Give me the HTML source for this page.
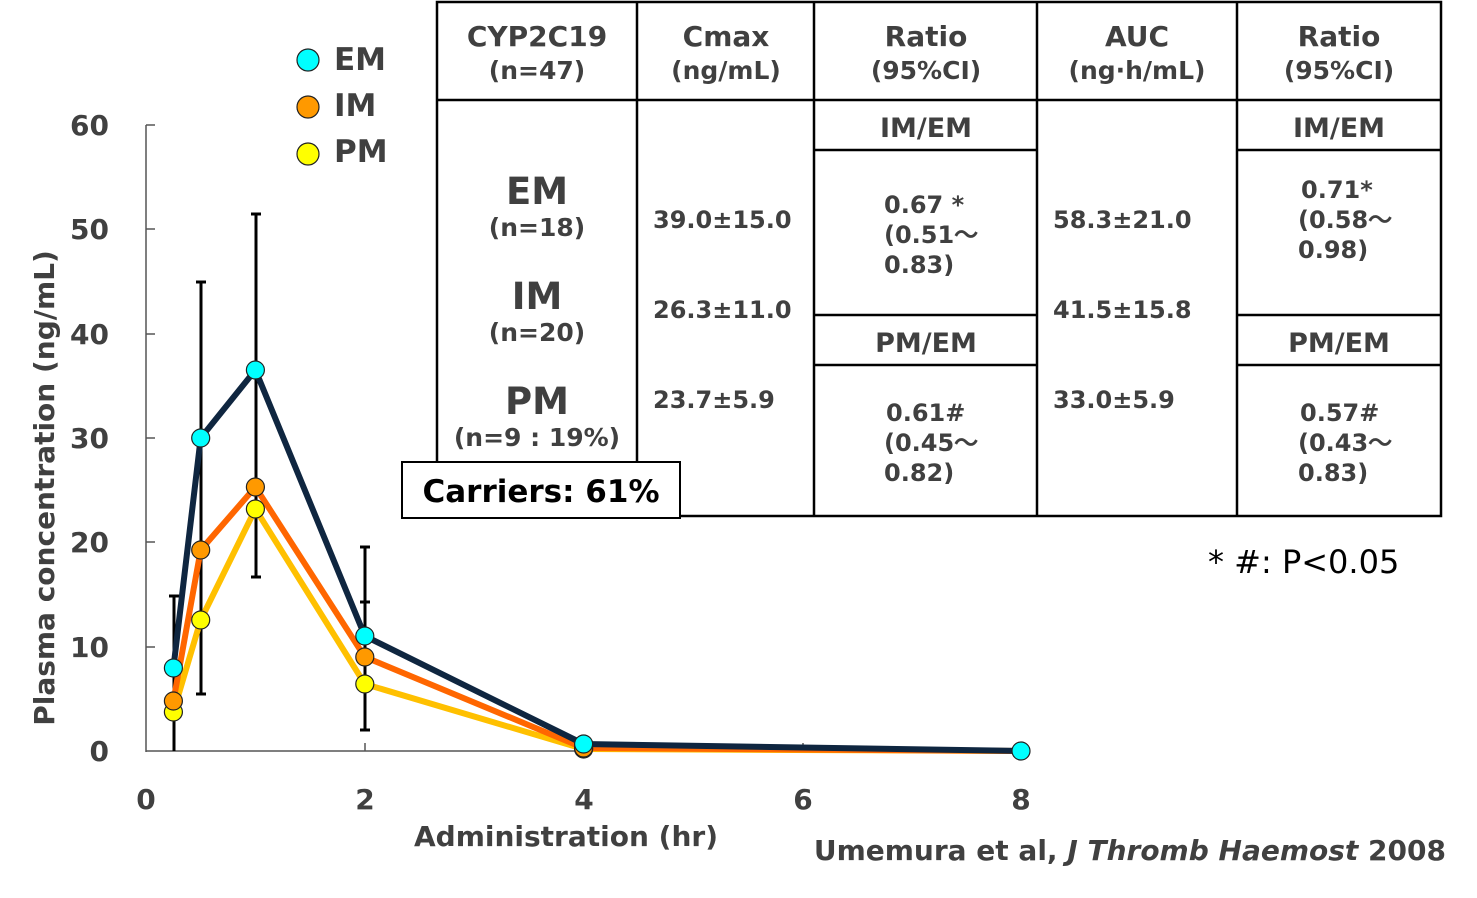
<!DOCTYPE html>
<html><head><meta charset="utf-8"><style>
html,body{margin:0;padding:0;background:#fff;}
svg text{font-family:"DejaVu Sans","Liberation Sans",sans-serif;font-weight:bold;fill:#404040;}
</style></head><body>
<svg width="1477" height="893" viewBox="0 0 1477 893" xmlns="http://www.w3.org/2000/svg">
<g stroke="#555" stroke-width="1.5" fill="none">
<line x1="146" y1="125" x2="146" y2="752"/>
<line x1="146" y1="751" x2="1022" y2="751"/>
<line x1="146" y1="125" x2="155" y2="125"/>
<line x1="146" y1="229" x2="155" y2="229"/>
<line x1="146" y1="334" x2="155" y2="334"/>
<line x1="146" y1="438" x2="155" y2="438"/>
<line x1="146" y1="542" x2="155" y2="542"/>
<line x1="146" y1="647" x2="155" y2="647"/>
<line x1="365" y1="743" x2="365" y2="751"/>
<line x1="584" y1="743" x2="584" y2="751"/>
<line x1="803" y1="743" x2="803" y2="751"/>
<line x1="1021" y1="743" x2="1021" y2="751"/>
</g>
<g font-size="28" text-anchor="end">
<text x="109" y="135">60</text><text x="109" y="239">50</text><text x="109" y="344">40</text>
<text x="109" y="448">30</text><text x="109" y="552">20</text><text x="109" y="657">10</text>
<text x="109" y="761">0</text>
</g>
<g font-size="28" text-anchor="middle">
<text x="146" y="809">0</text><text x="365" y="809">2</text><text x="584" y="809">4</text>
<text x="803" y="809">6</text><text x="1021" y="809">8</text>
</g>
<text x="566" y="846" font-size="28" text-anchor="middle">Administration (hr)</text>
<text transform="translate(54,488) rotate(-90)" font-size="28" text-anchor="middle">Plasma concentration (ng/mL)</text>
<g stroke="#000" stroke-width="3">
<line x1="174" y1="596" x2="174" y2="751"/><line x1="169" y1="596" x2="179" y2="596"/>
<line x1="201" y1="282" x2="201" y2="694"/><line x1="196" y1="282" x2="206" y2="282"/><line x1="196" y1="694" x2="206" y2="694"/>
<line x1="256" y1="214" x2="256" y2="577"/><line x1="251" y1="214" x2="261" y2="214"/><line x1="251" y1="577" x2="261" y2="577"/>
<line x1="365" y1="547" x2="365" y2="730"/><line x1="360" y1="547" x2="370" y2="547"/><line x1="360" y1="730" x2="370" y2="730"/><line x1="360" y1="602" x2="370" y2="602"/>
</g>
<g fill="none" stroke-width="6" stroke-linejoin="round">
<polyline stroke="#FFC000" points="173.4,712 200.7,620 255.4,509 364.8,684 583.6,749 1021,751"/>
<polyline stroke="#FF6600" points="173.4,701 200.7,550 255.4,487 364.8,657 583.6,748 1021,751"/>
<polyline stroke="#0F2640" points="173.4,668 200.7,438 255.4,370 364.8,636 583.6,744 1021,751"/>
</g>
<g stroke="#222" stroke-width="1.2">
<g fill="#FFFF00"><circle cx="173.4" cy="712" r="9"/><circle cx="200.7" cy="620" r="9"/><circle cx="255.4" cy="509" r="9"/><circle cx="364.8" cy="684" r="9"/><circle cx="583.6" cy="749" r="9"/></g>
<g fill="#FF9900"><circle cx="173.4" cy="701" r="9"/><circle cx="200.7" cy="550" r="9"/><circle cx="255.4" cy="487" r="9"/><circle cx="364.8" cy="657" r="9"/><circle cx="583.6" cy="748" r="9"/></g>
<g fill="#00FFFF"><circle cx="173.4" cy="668" r="9"/><circle cx="200.7" cy="438" r="9"/><circle cx="255.4" cy="370" r="9"/><circle cx="364.8" cy="636" r="9"/><circle cx="583.6" cy="744" r="9"/><circle cx="1021" cy="751" r="9"/></g>
<circle cx="308" cy="60" r="11" fill="#00FFFF"/><circle cx="308" cy="107" r="11" fill="#FF9900"/><circle cx="308" cy="154" r="11" fill="#FFFF00"/>
</g>
<g font-size="31"><text x="334" y="70">EM</text><text x="334" y="116">IM</text><text x="334" y="162">PM</text></g>
<g stroke="#000" stroke-width="2.5" fill="none">
<rect x="437" y="2" width="1004" height="514"/>
<line x1="437" y1="100" x2="1441" y2="100"/>
<line x1="637" y1="2" x2="637" y2="516"/>
<line x1="814" y1="2" x2="814" y2="516"/>
<line x1="1037" y1="2" x2="1037" y2="516"/>
<line x1="1237" y1="2" x2="1237" y2="516"/>
<line x1="814" y1="150" x2="1037" y2="150"/><line x1="814" y1="315" x2="1037" y2="315"/><line x1="814" y1="365" x2="1037" y2="365"/>
<line x1="1237" y1="150" x2="1441" y2="150"/><line x1="1237" y1="315" x2="1441" y2="315"/><line x1="1237" y1="365" x2="1441" y2="365"/>
</g>
<g font-size="28" text-anchor="middle">
<text x="537" y="46">CYP2C19</text><text x="726" y="46">Cmax</text><text x="926" y="46">Ratio</text><text x="1137" y="46">AUC</text><text x="1339" y="46">Ratio</text>
</g>
<g font-size="25" text-anchor="middle">
<text x="537" y="79">(n=47)</text><text x="726" y="79">(ng/mL)</text><text x="926" y="79">(95%CI)</text><text x="1137" y="79">(ng·h/mL)</text><text x="1339" y="79">(95%CI)</text>
<text x="926" y="137" font-size="27">IM/EM</text><text x="1339" y="137" font-size="27">IM/EM</text>
<text x="926" y="352" font-size="27">PM/EM</text><text x="1339" y="352" font-size="27">PM/EM</text>
<text x="537" y="204" font-size="37">EM</text><text x="537" y="236">(n=18)</text>
<text x="537" y="309" font-size="37">IM</text><text x="537" y="341">(n=20)</text>
<text x="537" y="414" font-size="37">PM</text><text x="537" y="446">(n=9 : 19%)</text>
</g>
<g font-size="24">
<text x="653" y="228">39.0±15.0</text><text x="653" y="318">26.3±11.0</text><text x="653" y="408">23.7±5.9</text>
<text x="1053" y="228">58.3±21.0</text><text x="1053" y="318">41.5±15.8</text><text x="1053" y="408">33.0±5.9</text>
<text x="884" y="213">0.67 *</text><text x="884" y="243"> (0.51～</text><text x="884" y="273">0.83)</text>
<text x="886" y="421">0.61#</text><text x="884" y="451">(0.45～</text><text x="884" y="481">0.82)</text>
<text x="1301" y="198">0.71*</text><text x="1298" y="228">(0.58～</text><text x="1298" y="258">0.98)</text>
<text x="1300" y="421">0.57#</text><text x="1298" y="451">(0.43～</text><text x="1298" y="481">0.83)</text>
</g>
<rect x="402" y="462" width="278" height="56" fill="#fff" stroke="#000" stroke-width="2"/>
<text x="541" y="502" font-size="31" text-anchor="middle" style="fill:#000">Carriers: 61%</text>
<text x="1208" y="573" font-size="32" style="font-weight:normal;fill:#000">* #: P&lt;0.05</text>
<text x="1446" y="860" font-size="28" text-anchor="end">Umemura et al, <tspan font-style="italic">J Thromb Haemost</tspan> 2008</text>
</svg>
</body></html>
